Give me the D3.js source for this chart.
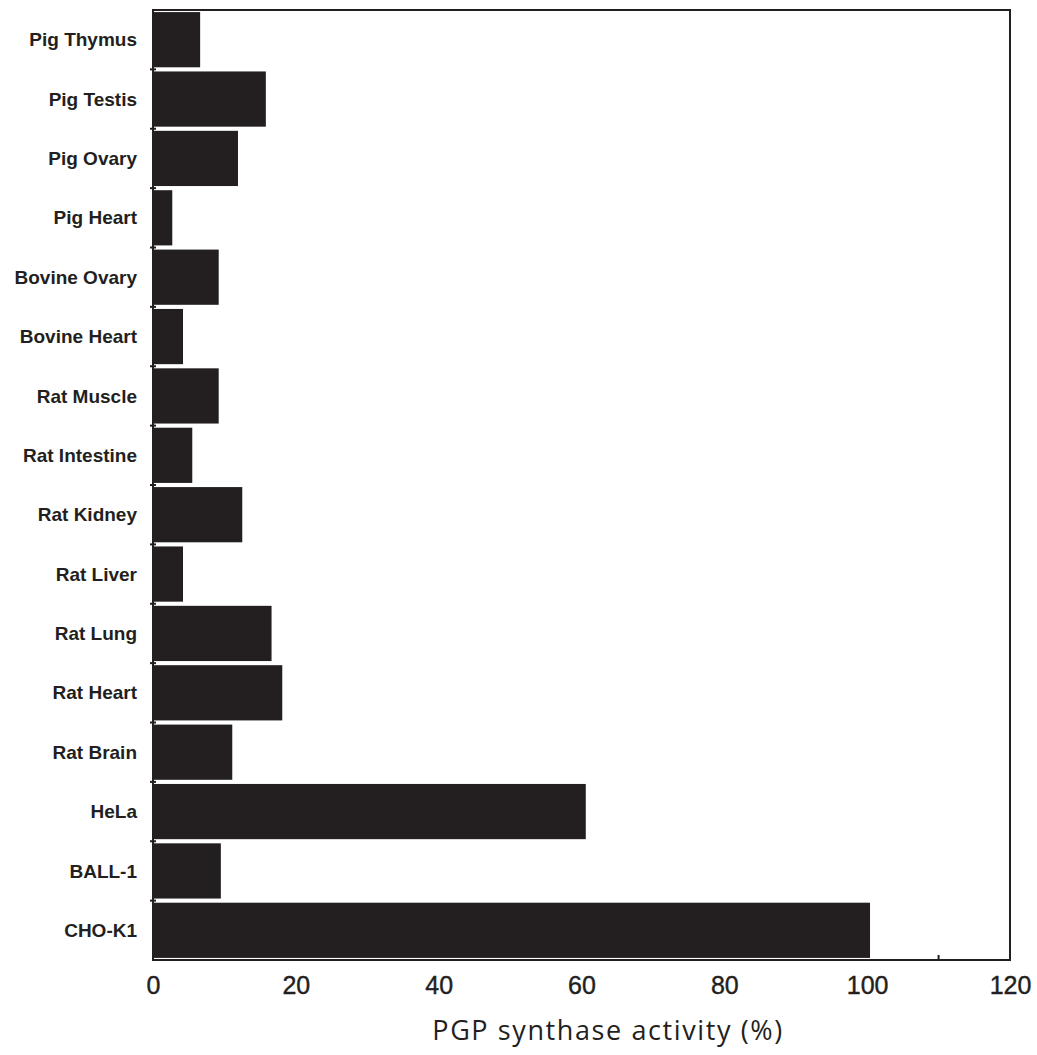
<!DOCTYPE html>
<html>
<head>
<meta charset="utf-8">
<script src="https://cdn.jsdelivr.net/npm/d3@7"></script>
<style>
  html, body { margin: 0; padding: 0; background: #fff; }
  svg { display: block; }
</style>
</head>
<body>
<script>
const categories = ["Pig Thymus","Pig Testis","Pig Ovary","Pig Heart","Bovine Ovary","Bovine Heart","Rat Muscle","Rat Intestine","Rat Kidney","Rat Liver","Rat Lung","Rat Heart","Rat Brain","HeLa","BALL-1","CHO-K1"];
const values = [6.6, 15.8, 11.9, 2.7, 9.2, 4.2, 9.2, 5.5, 12.5, 4.2, 16.6, 18.1, 11.1, 60.6, 9.5, 100.4];
const xTicks = [0, 20, 40, 60, 80, 100, 120];
const xTitle = "PGP synthase activity (%)";

const W = 1037, H = 1055;
const margin = {left: 153, right: 27, top: 10, bottom: 95};
const ink = "#231f20";

const svg = d3.select("body").append("svg").attr("width", W).attr("height", H);

const x = d3.scaleLinear().domain([0, 120]).range([margin.left, W - margin.right]);
const y = d3.scaleBand().domain(categories).range([margin.top, H - margin.bottom]).paddingInner(0.07).paddingOuter(0.035);

// bars
svg.append("g").selectAll("rect").data(categories).join("rect")
  .attr("x", x(0))
  .attr("y", d => y(d))
  .attr("width", (d, i) => x(values[i]) - x(0))
  .attr("height", y.bandwidth())
  .attr("fill", ink);

// frame
svg.append("rect")
  .attr("x", x(0)).attr("y", margin.top)
  .attr("width", x(120) - x(0)).attr("height", H - margin.bottom - margin.top)
  .attr("fill", "none").attr("stroke", ink).attr("stroke-width", 2);

// left ticks at band boundaries
const step = y.step();
const bounds = categories.slice(1).map(c => y(c) - (step - y.bandwidth()) / 2);
svg.append("g").selectAll("line").data(bounds).join("line")
  .attr("x1", x(0) - 3).attr("x2", x(0) + 3)
  .attr("y1", d => d).attr("y2", d => d)
  .attr("stroke", ink).attr("stroke-width", 2);

// category labels
svg.append("g").selectAll("text").data(categories).join("text")
  .attr("x", x(0) - 16)
  .attr("y", d => y(d) + y.bandwidth() / 2)
  .attr("dy", "0.35em")
  .attr("text-anchor", "end")
  .attr("font-family", "'Liberation Sans', Arial, sans-serif")
  .attr("font-weight", "bold")
  .attr("font-size", 19)
  .attr("fill", ink)
  .text(d => d);

// x axis tick labels
const xAxis = d3.axisBottom(x).tickValues(xTicks).tickSize(0).tickPadding(0);
const gx = svg.append("g").attr("transform", `translate(0, ${H - margin.bottom})`).call(xAxis);
gx.select(".domain").remove();
gx.selectAll("text")
  .attr("y", 34)
  .attr("dy", 0)
  .attr("font-family", "'Liberation Sans', Arial, sans-serif")
  .attr("font-size", 25)
  .attr("stroke", ink)
  .attr("stroke-width", 0.4)
  .attr("fill", ink);

// small inner tick at 110
svg.append("line")
  .attr("x1", x(110)).attr("x2", x(110))
  .attr("y1", H - margin.bottom).attr("y2", H - margin.bottom - 5)
  .attr("stroke", ink).attr("stroke-width", 2);

// x title
svg.append("text")
  .attr("x", 608).attr("y", 1040)
  .attr("text-anchor", "middle")
  .attr("font-family", "'Open Sans', sans-serif")
  .attr("font-size", 27)
  .attr("letter-spacing", 1.6)
  .attr("fill", ink)
  .text(xTitle);
</script>
</body>
</html>
